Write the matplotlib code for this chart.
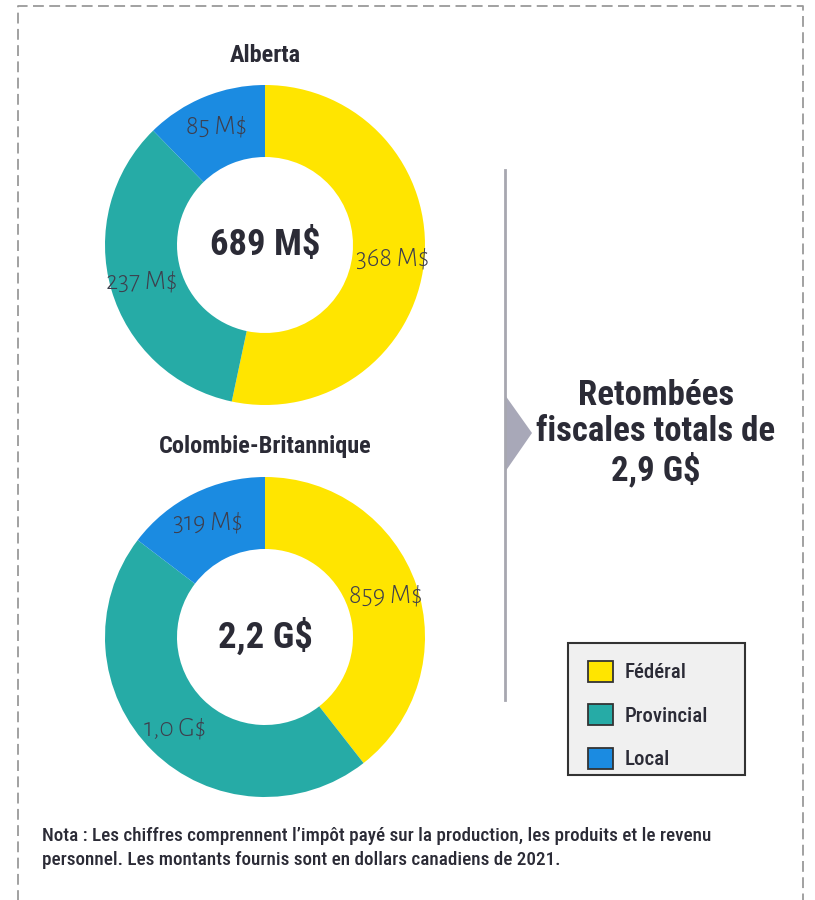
import matplotlib.pyplot as plt
import numpy as np
from matplotlib.patches import Patch, Polygon, Rectangle


categories = ['Fédéral', 'Provincial', 'Local']
colors = ['#FFE500', '#26ABA6', '#1B8BE1']

alberta_values = [368, 237, 85]
alberta_labels = ['368 M$', '237 M$', '85 M$']
alberta_total = '689 M$'

bc_values = [859, 1000, 319]
bc_labels = ['859 M$', '1,0 G$', '319 M$']
bc_total = '2,2 G$'

headline = 'Retombées\nfiscales totals de\n2,9 G$'
note = ('Nota : Les chiffres comprennent l\u2019impôt payé sur la production, les produits et le revenu\n'
        'personnel. Les montants fournis sont en dollars canadiens de 2021.')

W, H = 815, 900
dark = '#2b2b36'
narrow = ['Roboto Condensed', 'Liberation Sans', 'DejaVu Sans']
light = ['Alegreya Sans', 'Lato', 'DejaVu Sans']


fig = plt.figure(figsize=(W / 100, H / 100), dpi=100)

# background axes in pixel coordinates
bg = fig.add_axes([0, 0, 1, 1])
bg.set_xlim(0, W)
bg.set_ylim(H, 0)
bg.axis('off')

# dashed frame (runs off the bottom)
bg.plot([18, 18, 803, 803], [910, 6, 6, 910], color='#9a9a9a', lw=1.3,
        ls=(0, (6, 3)), solid_capstyle='butt')

# divider line + arrow
bg.plot([505, 505], [170, 700], color='#a7a7b0', lw=2)
bg.add_patch(Polygon([[505, 395], [532, 433], [505, 472]], closed=True,
                     color='#a8a8b8', lw=0))

bg.text(656, 433, headline, ha='center', va='center', fontsize=25,
        fontweight='bold', color=dark, family=narrow, linespacing=1.12)

bg.text(42, 848, note, ha='left', va='center', fontsize=13.8, fontweight=500,
        color=dark, family=narrow, linespacing=1.45)


def donut(cx, cy, title, values, labels, total):
    r_px = 160
    half = 170
    ax = fig.add_axes([(cx - half) / W, (H - cy - half) / H, 2 * half / W, 2 * half / H])
    wedges, _ = ax.pie(values, colors=colors, startangle=90, counterclock=False,
                       radius=1, wedgeprops=dict(width=0.45, linewidth=0))
    lim = half / r_px
    ax.set_xlim(-lim, lim)
    ax.set_ylim(-lim, lim)
    ax.set_aspect('equal')
    ax.axis('off')
    for w, lab in zip(wedges, labels):
        mid = np.deg2rad((w.theta1 + w.theta2) / 2)
        ax.text(0.8 * np.cos(mid), 0.8 * np.sin(mid), lab, ha='center', va='center',
                fontsize=19.5, fontweight=300, color='#3e3e4c', family=light)
    ax.text(0, 0, total, ha='center', va='center', fontsize=26.5, fontweight='bold',
            color=dark, family=narrow)
    bg.text(cx, cy - 190, title, ha='center', va='center', fontsize=17.5,
            fontweight='bold', color=dark, family=narrow)


donut(265, 245, 'Alberta', alberta_values, alberta_labels, alberta_total)
donut(265, 637, 'Colombie-Britannique', bc_values, bc_labels, bc_total)

# legend box
bg.add_patch(Rectangle((568, 643), 177, 132, facecolor='#f0f0f0', edgecolor='#333333', lw=1.5))
handles = [Patch(facecolor=c, edgecolor='#333333', lw=1.3) for c in colors]
leg = bg.legend(handles, categories, loc='upper left',
                bbox_to_anchor=(569 / W, 1 - 642 / H), bbox_transform=fig.transFigure,
                frameon=False, handlelength=1.2, handleheight=1.2,
                handletextpad=0.55, labelspacing=1.04, borderpad=0.4,
                prop=dict(family=narrow, size=15, weight=500))
for t in leg.get_texts():
    t.set_color(dark)

fig.savefig('out.png', dpi=100)
